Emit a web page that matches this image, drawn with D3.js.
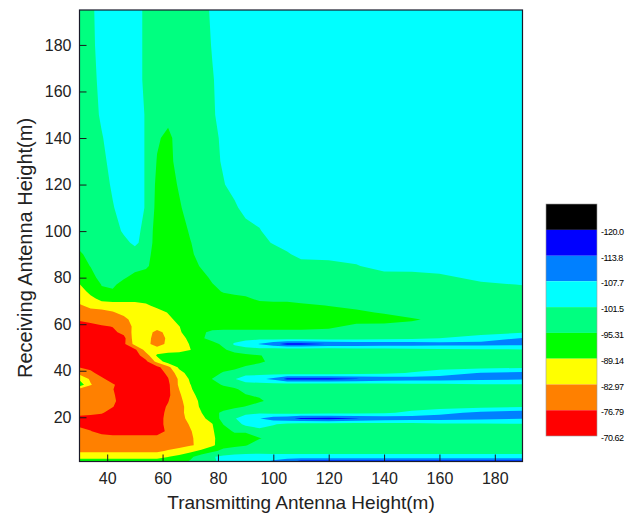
<!DOCTYPE html>
<html>
<head>
<meta charset="utf-8">
<style>
  body { margin: 0; background: #fff; }
  svg { display: block; font-family: "Liberation Sans", Arial, sans-serif; }
  .axis path { display: none; }
  .axis line { stroke: #1a1a1a; }
  .axis text { font-size: 16px; fill: #222; }
  .title { font-size: 19px; fill: #222; }
  .legend text { font-size: 9px; fill: #000; letter-spacing: -0.5px; }
</style>
</head>
<body>
<script src="https://cdn.jsdelivr.net/npm/d3@7"></script>
<script>
// grid columns: transmitting antenna height (m)
var txHeights = [30, 34, 38, 42, 46, 50, 54, 58, 62, 66, 70, 74, 78, 82, 86, 90, 95, 100, 105, 110, 120, 130, 140, 150, 160, 175, 190];
// grid rows: receiving antenna height (m), top to bottom
var rxHeights = [195, 180, 165, 150, 140, 130, 120, 110, 100, 95, 90, 85, 80, 77, 74, 71, 68, 65, 62, 59, 56.5, 54, 51.5, 49, 46.5, 44, 41.5, 39, 36.5, 34, 32, 29.5, 27, 24.5, 22, 19.5, 17, 14, 11, 8, 5.5, 3, 1];
// received level at each node (one row per rxHeights entry)
var level = [
  [-98,-100,-104.5,-104.5,-104.5,-104.5,-100,-98,-98,-98,-98,-98,-103,-104.5,-104.5,-104.5,-104.5,-104.5,-104.5,-104.5,-104.5,-104.5,-104.5,-104.5,-104.5,-104.5,-104.5],
  [-98,-99.5,-104.5,-104.5,-104.5,-104.5,-100,-98,-98,-98,-98,-98,-102,-104.5,-104.5,-104.5,-104.5,-104.5,-104.5,-104.5,-104.5,-104.5,-104.5,-104.5,-104.5,-104.5,-104.5],
  [-98,-99,-103.5,-104.5,-104.5,-104.5,-100,-98,-98,-98,-98,-98,-101,-104.5,-104.5,-104.5,-104.5,-104.5,-104.5,-104.5,-104.5,-104.5,-104.5,-104.5,-104.5,-104.5,-104.5],
  [-98,-98.5,-102.5,-104.5,-104.5,-104.5,-101,-98,-97,-98,-98,-98,-100.5,-104.5,-104.5,-104.5,-104.5,-104.5,-104.5,-104.5,-104.5,-104.5,-104.5,-104.5,-104.5,-104.5,-104.5],
  [-98,-98,-101,-104.5,-104.5,-104.5,-101,-96,-94,-97.5,-98,-98,-99.5,-103,-104.5,-104.5,-104.5,-104.5,-104.5,-104.5,-104.5,-104.5,-104.5,-104.5,-104.5,-104.5,-104.5],
  [-98,-98,-99.5,-104,-104.5,-104.5,-101,-95,-93,-98,-98,-98,-99,-102.5,-104.5,-104.5,-104.5,-104.5,-104.5,-104.5,-104.5,-104.5,-104.5,-104.5,-104.5,-104.5,-104.5],
  [-98,-98,-98.5,-102.5,-104.5,-104.5,-101,-94,-92.5,-96,-98,-98,-98,-101,-104.5,-104.5,-104.5,-104.5,-104.5,-104.5,-104.5,-104.5,-104.5,-104.5,-104.5,-104.5,-104.5],
  [-98,-98,-98,-101,-104.5,-104.5,-101,-93.5,-92,-94.5,-98,-98,-98,-98,-100,-104.5,-104.5,-104.5,-104.5,-104.5,-104.5,-104.5,-104.5,-104.5,-104.5,-104.5,-104.5],
  [-98,-98,-98,-98.5,-102.5,-104,-99,-93,-92,-92.5,-96,-98,-98,-98,-98,-98,-101,-104.5,-104.5,-104.5,-104.5,-104.5,-104.5,-104.5,-104.5,-104.5,-104.5],
  [-98,-98,-98,-98,-99.5,-103,-98.5,-93,-92,-92,-95,-98,-98,-98,-98,-98,-99.5,-102,-104.5,-104.5,-104.5,-104.5,-104.5,-104.5,-104.5,-104.5,-104.5],
  [-94,-98,-98,-98,-98,-98,-97.5,-92.5,-92,-92,-94,-98,-98,-98,-98,-98,-98,-98,-100.5,-104,-104.5,-104.5,-104.5,-104.5,-104.5,-104.5,-104.5],
  [-93,-95.5,-98,-98,-98,-98,-96.5,-92,-92,-92,-92.5,-96,-98,-98,-98,-98,-98,-98,-98,-98,-98.5,-101,-104.5,-104.5,-104.5,-104.5,-104.5],
  [-91,-93,-97.5,-98,-96,-93,-92,-92,-92,-92,-92,-93,-96.5,-98,-98,-98,-98,-98,-98,-98,-98,-98,-98,-98.5,-100,-103,-104.5],
  [-89,-92,-95.5,-96.5,-93,-92,-92,-92,-92,-92,-92,-92,-95,-97.5,-98,-98,-98,-98,-98,-98,-98,-98,-98,-98.5,-99.5,-100.5,-101.7],
  [-86,-91,-94.5,-94.5,-92,-92,-92,-92,-92,-92,-92,-92,-93,-96,-98,-98,-98,-98,-98,-98,-98,-98,-98,-98,-98,-98.5,-99],
  [-86,-87.5,-91,-92,-92,-92,-92,-92,-92,-92,-92,-92,-92,-92,-92,-94,-97,-98,-98,-98,-98,-98,-98,-98,-98,-98,-98.5],
  [-82,-85,-86,-86,-86,-86,-88,-91,-92,-92,-92,-92,-92,-92,-92,-92,-92,-92,-92,-94,-95.5,-97,-98,-98,-98,-98,-98],
  [-80,-80,-80.5,-82.5,-84.5,-86,-86,-86,-89.5,-92,-92,-92,-92,-92,-92,-92,-92,-92,-92,-92,-92,-94,-96,-98,-98,-98,-98],
  [-77.5,-79,-80,-80,-81.5,-85,-86,-86,-87.5,-91,-92,-92,-92,-92,-92,-92,-92,-92,-92,-92,-92,-92,-92,-94.5,-97,-98,-98],
  [-74,-74.5,-76,-77,-80.5,-84,-86,-86,-86,-89,-92,-92,-92,-92,-92,-92,-92,-92,-92,-92,-93.5,-97.5,-98,-98,-98,-98,-98],
  [-74,-74,-74.5,-75.5,-78.5,-85,-86,-81,-85,-88.5,-91.5,-94,-97,-98,-98,-98,-98,-98,-98,-98,-98,-98,-98,-98,-98.5,-99.5,-101],
  [-74,-74,-74,-74,-75,-86,-85.5,-80,-84,-87,-90.5,-94.5,-97.5,-98,-98,-99,-99.5,-98.5,-98,-98,-98,-98.5,-99,-100,-101.5,-104,-108],
  [-74,-74,-74,-74,-75.5,-85,-85,-80,-84.5,-86.5,-89.5,-92,-93.5,-96.5,-102.5,-105,-108,-112,-116,-116,-113.5,-112.5,-112,-111.5,-110.5,-110,-109.5],
  [-74,-74,-74,-74,-74,-75.5,-85.5,-86,-86,-87,-89,-92,-93.5,-94.5,-97.5,-99,-99,-98,-97.5,-97.5,-97.5,-98,-98.5,-99,-100,-100.5,-101],
  [-74,-74,-74,-74,-74,-74,-80,-90,-92,-92,-92,-92,-92,-92,-93,-94,-95,-97,-98,-98,-98,-98,-98,-98,-98,-98,-98],
  [-74,-74,-74,-74,-74,-74,-75.5,-85,-93,-92,-92,-92,-92,-92,-92.5,-93,-94.5,-96.5,-98,-98,-98,-98,-98,-98,-98,-98,-98],
  [-76.5,-75,-74,-74,-74,-74,-74,-75,-81,-90.5,-92,-92,-92,-93,-94,-96,-97,-98,-98,-98,-98,-98,-98,-98.5,-99,-99.5,-100.5],
  [-81,-78.5,-74,-74,-74,-74,-74,-74,-78,-86.5,-92,-92,-93,-96,-97.5,-98,-99,-99,-98,-98,-98,-99,-100,-102,-105,-108,-109.5],
  [-88,-82,-78,-74,-74,-74,-74,-74,-76.5,-84,-90,-92,-95.5,-98.5,-101,-106,-106.5,-109,-115.5,-116,-116,-114,-112,-111,-110.5,-109.5,-108.5],
  [-93,-83.5,-79,-77.5,-74,-74,-74,-74,-75.5,-84,-89,-92,-93,-96,-97.5,-98.5,-99,-99,-98,-98,-97.5,-98,-98.5,-99.5,-100,-101,-101],
  [-81,-79,-78.5,-77,-74,-74,-74,-74,-75.5,-83,-88.5,-92,-92,-93,-94.5,-97,-97.5,-98,-98,-98,-98,-98,-98,-98,-98,-98,-98],
  [-79.5,-79,-78.5,-77.5,-74,-74,-74,-74,-75.5,-82,-87.5,-91,-92,-92,-92.5,-95,-96,-97.5,-98,-98,-98,-98,-98,-98,-98,-98,-98],
  [-79.5,-79.5,-79,-78,-74,-74,-74,-74,-76.5,-81.5,-86,-90.5,-92,-92,-92,-93,-94.5,-97,-98,-98,-98,-98,-98,-98,-98,-98,-98],
  [-79.5,-79,-78.5,-77,-74,-74,-74,-74,-77.5,-80.5,-86,-90,-92,-93,-94.5,-95.5,-98,-98,-98,-98,-98,-98,-98.5,-98.5,-99,-100,-101],
  [-79,-78.5,-77.5,-74,-74,-74,-74,-74.5,-78,-81,-85.5,-89,-93.5,-96.5,-98,-99.5,-100.5,-99.5,-99,-98.5,-98.5,-99,-100.5,-103,-106,-109,-111],
  [-75,-74.5,-74,-74,-74,-74,-74,-74.5,-78.5,-80.5,-85,-88,-91,-98,-101,-105,-107.5,-111,-112.5,-115,-116,-114,-112,-111,-110.5,-109.5,-108],
  [-75.5,-75,-74,-74,-74,-74,-74,-74.5,-78.5,-80,-83.5,-87,-89,-95.5,-98.5,-103,-104,-102,-100,-99,-98,-98,-98.5,-99,-100,-100.5,-101],
  [-78.5,-77,-75,-74,-74,-74,-74,-74,-78,-80.5,-82.5,-86,-88.5,-93,-96,-96,-99.5,-98.5,-98,-98,-98,-98,-98,-98,-98,-98,-98],
  [-80,-79.5,-79,-79,-79,-79,-79,-79,-79.5,-80,-82,-85.5,-88,-92.5,-93,-93,-95,-97,-98,-98,-98,-98,-98,-98,-98,-98,-98],
  [-80.5,-80.5,-80.5,-80.5,-80.5,-80.5,-80.5,-80.5,-80.5,-81,-82.5,-84,-88,-93,-94,-95,-97.5,-98,-98,-98,-98,-98,-98,-98,-98,-98,-98],
  [-82,-82,-82,-82,-82,-82,-82,-82,-83.5,-85,-87.5,-90.5,-94,-97,-98,-99,-99,-98.5,-98.5,-98.5,-98.5,-98.5,-98.5,-98.5,-98.5,-98.5,-98.5],
  [-87,-87,-87,-87,-87,-87,-87,-87,-89,-91,-94,-98.5,-101,-103,-104,-104,-104.5,-104.5,-104.5,-104.5,-104.5,-104.5,-104.5,-104.5,-104.5,-104.5,-104.5],
  [-92,-92,-92,-92,-92,-92,-92,-92,-92,-93,-96,-98,-100,-104,-105,-105,-106,-109,-112,-116,-116,-116,-116,-116,-116,-116,-116]
];
// contour levels (band lower edges) and band colours, lowest first
var levels = [-120.0, -113.8, -107.7, -101.5, -95.31, -89.14, -82.97, -76.79, -70.62];
var colors = ["#000000", "#0000ff", "#0080ff", "#00ffff", "#00ff80", "#00ff00", "#ffff00", "#ff8000", "#ff0000"];
var xTicks = [40, 60, 80, 100, 120, 140, 160, 180];
var yTicks = [20, 40, 60, 80, 100, 120, 140, 160, 180];

var width = 643, height = 526;

var x = d3.scaleLinear().domain([30, 190]).range([79.5, 522.5]);
var y = d3.scaleLinear().domain([1, 195]).range([461.5, 10]);

var svg = d3.select("body").append("svg")
    .attr("width", width)
    .attr("height", height);

// contour grid coords -> data coords (node i sits at i + 0.5)
var nx = txHeights.length, ny = rxHeights.length;
var colToX = d3.scaleLinear().domain(txHeights.map(function (d, i) { return i + 0.5; })).range(txHeights).clamp(true);
var rowToY = d3.scaleLinear().domain(rxHeights.map(function (d, i) { return i + 0.5; })).range(rxHeights).clamp(true);

var flat = [];
level.forEach(function (row) { flat = flat.concat(row); });

var bands = d3.contours()
    .size([nx, ny])
    .thresholds(levels.slice(0, levels.length - 1))(flat);

var path = d3.geoPath(d3.geoTransform({
    point: function (px, py) { this.stream.point(x(colToX(px)), y(rowToY(py))); }
}));

svg.append("defs").append("clipPath").attr("id", "plotClip")
    .append("rect")
    .attr("x", x(30)).attr("y", y(195))
    .attr("width", x(190) - x(30)).attr("height", y(1) - y(195));

svg.append("g")
    .attr("clip-path", "url(#plotClip)")
    .selectAll("path")
    .data(bands)
    .enter().append("path")
    .attr("d", path)
    .attr("fill", function (d) { return colors[levels.indexOf(d.value) + 1]; });

// frame
svg.append("rect")
    .attr("x", x(30)).attr("y", y(195))
    .attr("width", x(190) - x(30)).attr("height", y(1) - y(195))
    .attr("fill", "none")
    .attr("stroke", "#1a1a2a")
    .attr("stroke-width", 1.2);

// axes, ticks pointing inward
svg.append("g")
    .attr("class", "axis")
    .attr("transform", "translate(0," + y(1) + ")")
    .call(d3.axisBottom(x).tickValues(xTicks).tickSizeInner(-7).tickSizeOuter(0).tickPadding(11));

svg.append("g")
    .attr("class", "axis")
    .attr("transform", "translate(" + x(30) + ",0)")
    .call(d3.axisLeft(y).tickValues(yTicks).tickSizeInner(-7).tickSizeOuter(0).tickPadding(8));

svg.append("text")
    .attr("class", "title")
    .attr("x", 301).attr("y", 509)
    .attr("text-anchor", "middle")
    .text("Transmitting Antenna Height(m)");

svg.append("text")
    .attr("class", "title")
    .attr("transform", "translate(32,248) rotate(-90)")
    .attr("text-anchor", "middle")
    .style("font-size", "20px")
    .text("Receiving Antenna Height(m)");

// colour scale legend
var step = levels[1] - levels[0];
var edges = [levels[0] - step].concat(levels);
var ly = d3.scaleLinear().domain([edges[0], edges[edges.length - 1]]).range([204, 436]);
var fmt = d3.formatLocale({ decimal: ".", thousands: ",", grouping: [3], currency: ["", ""], minus: "-" }).format(".4r");

var legend = svg.append("g").attr("class", "legend");

legend.selectAll("rect")
    .data(colors)
    .enter().append("rect")
    .attr("x", 546)
    .attr("width", 51)
    .attr("y", function (d, i) { return ly(edges[i]); })
    .attr("height", function (d, i) { return ly(edges[i + 1]) - ly(edges[i]); })
    .attr("fill", function (d) { return d; });

legend.append("rect")
    .attr("x", 546).attr("y", ly(edges[0]))
    .attr("width", 51).attr("height", ly(edges[edges.length - 1]) - ly(edges[0]))
    .attr("fill", "none").attr("stroke", "#999").attr("stroke-width", 0.6);

legend.selectAll("text")
    .data(levels)
    .enter().append("text")
    .attr("x", 601)
    .attr("y", function (d) { return ly(d) + 2; })
    .attr("dy", "0.35em")
    .text(function (d) { return fmt(d); });
</script>
</body>
</html>
